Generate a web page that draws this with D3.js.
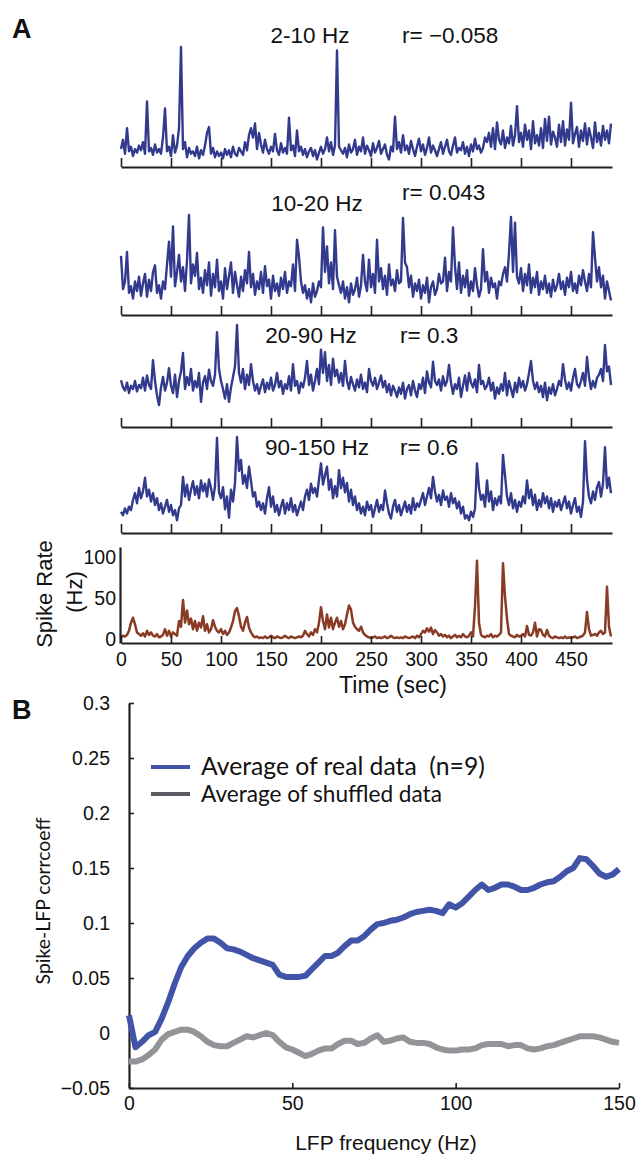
<!DOCTYPE html>
<html><head><meta charset="utf-8">
<script src="https://cdn.jsdelivr.net/npm/d3@7"></script>
<style>body{margin:0;background:#fff}svg{display:block}</style>
</head><body>
<svg id="chart" width="644" height="1157"></svg>
<script>
// ---------------- DATA ----------------
const sampleStep = 2; // seconds between samples
const bandLabels = ["2-10 Hz", "10-20 Hz", "20-90 Hz", "90-150 Hz"];
const rLabels = ["r= \u22120.058", "r= 0.043", "r= 0.3", "r= 0.6"];
const timeTicks = [0, 50, 100, 150, 200, 250, 300, 350, 400, 450];
const rateTicks = [0, 50, 100];

const lfp_2_10 = [12,20,8,30,10,14,6,12,9,15, 11,18,8,53,10,13,7,16,9,12, 8,22,47,10,14,6,24,9,15,30,
 100,12,18,5,13,8,10,6,14,4, 11,7,15,26,31,8,13,5,10,6, 9,4,12,7,11,5,14,8,6,13,
 10,7,18,11,24,30,22,34,12,26, 16,9,20,12,8,14,10,25,11,7, 17,9,13,8,39,11,15,6,28,10,
 14,7,12,5,10,13,6,11,3,9, 14,8,12,22,10,18,7,15,97,14, 11,8,13,5,16,9,12,20,7,14,
 10,22,8,15,11,6,17,9,13,19, 8,12,16,7,3,14,10,40,12,18, 9,24,11,15,8,19,12,6,14,21,
 10,16,7,13,22,9,15,11,6,12, 18,8,14,20,10,7,15,22,9,13, 11,18,8,14,6,16,10,21,12,15,
 9,13,22,18,26,14,30,12,35,20, 16,28,13,22,17,32,15,24,49,18, 26,14,33,20,28,12,36,17,24,15,
 30,13,38,19,40,16,27,22,14,33, 18,36,15,29,20,52,17,25,31,14, 28,19,34,16,30,22,13,35,18,26,
 15,32,20,28,17,34];
const lfp_10_20 = [57,22,30,61,18,25,12,30,20,35, 15,28,38,14,32,20,40,47,18,26, 12,30,22,48,72,35,88,25,40,58,
 30,45,20,52,100,28,48,36,60,22, 34,18,42,26,50,15,38,24,53,20, 30,12,44,22,36,50,18,40,26,14,
 35,20,42,28,61,24,38,16,30,22, 40,18,46,25,32,12,36,20,28,15, 34,22,40,18,30,25,48,20,74,56,
 30,18,26,12,22,8,28,14,20,30, 24,87,40,67,28,50,22,84,35,26, 18,30,12,24,8,28,16,22,34,14,
 26,58,30,20,53,24,38,18,74,30, 44,22,36,16,48,26,32,20,42,28, 30,97,50,45,24,36,14,28,20,32,
 12,26,18,34,8,24,30,16,22,38, 28,30,55,20,40,30,87,46,22,50, 18,36,24,42,15,30,20,44,26,14,
 22,64,30,40,18,34,24,28,12,30, 26,38,45,30,60,98,40,92,35,28, 44,20,38,26,48,18,34,24,40,16,
 30,22,36,18,28,14,32,20,26,38, 22,30,16,34,24,40,20,28,18,36, 26,42,30,20,38,24,82,55,30,45,
 24,36,12,30,20,10];
const lfp_20_90 = [31,22,18,28,15,24,20,30,17,25, 21,34,18,37,25,20,56,30,12,0, 22,35,18,28,46,24,15,38,10,30,
 42,65,20,35,25,45,18,30,22,40, 4,28,36,20,44,30,24,38,91,45, 30,20,8,26,4,22,35,48,100,40,
 28,45,20,38,25,51,30,18,26,14, 24,32,16,28,20,34,18,25,40,22, 30,14,26,20,36,18,51,24,30,15,
 28,22,34,55,25,38,18,30,45,26, 69,40,66,30,50,25,58,36,44,28, 40,24,55,30,20,35,26,18,32,22,
 38,20,28,16,45,30,24,34,20,28, 37,22,30,16,26,12,24,18,10,22, 14,28,8,20,25,12,30,18,10,26,
 20,34,15,42,28,22,54,30,25,32, 18,36,24,30,50,28,14,26,20,34, 10,24,37,18,40,28,22,32,16,50,
 26,30,20,24,34,18,28,8,22,14, 26,18,40,12,30,20,10,28,16,34, 22,30,18,26,40,55,30,20,28,16,
 24,10,28,6,22,14,26,12,20,30, 24,51,32,20,28,18,34,45,26,22, 30,40,24,60,35,20,30,22,34,38,
 45,30,75,42,48,25];
const lfp_90_150 = [12,8,16,10,18,14,26,34,22,40, 28,36,52,30,38,24,34,20,28,14, 22,10,18,26,12,20,8,14,2,16,
 20,53,30,44,26,38,48,32,42,28, 49,36,45,30,50,40,26,42,99,35, 28,41,15,30,5,38,24,46,100,60,
 73,45,55,40,65,48,30,35,18,24, 14,22,10,28,41,18,30,12,20,8, 18,26,10,22,14,28,12,20,8,16,
 24,14,30,38,26,45,34,40,30,50, 69,44,55,65,38,50,28,42,30,61, 40,52,35,46,24,38,20,30,14,22,
 10,18,8,24,14,20,6,16,26,12, 20,14,37,22,10,4,18,26,12,20, 8,16,24,12,20,10,28,14,22,18,
 26,34,20,30,40,28,53,36,24,32, 20,37,26,30,18,34,22,28,16,24, 10,18,4,8,2,12,6,16,69,40,
 26,32,18,49,24,36,14,28,20,30, 22,79,55,30,20,34,16,26,12,24, 18,30,22,49,28,38,20,32,14,26,
 18,34,22,30,16,28,12,24,18,26, 14,22,30,16,24,10,20,28,12,18, 6,24,95,50,30,22,36,26,41,47,
 30,45,88,40,52,34];
const spikeRate = [2,4,3,5,10,20,26,18,8,6, 4,7,3,10,5,8,4,3,6,2, 3,5,12,4,10,3,8,6,4,22,
 15,48,20,35,18,25,12,22,10,20, 14,28,10,18,8,12,23,15,10,8, 12,6,10,5,8,14,22,34,38,28,
 15,10,20,27,14,8,4,2,3,1, 2,1,3,1,2,4,2,1,3,2, 1,2,4,2,1,3,2,1,2,3,
 2,4,10,6,3,8,5,12,8,20, 39,22,12,30,14,26,12,20,26,15, 22,12,18,30,41,36,20,15,12,10,
 15,8,5,3,2,1,2,3,1,2, 1,2,3,1,2,4,2,1,2,1, 2,1,3,2,1,2,3,1,4,2,
 6,10,8,13,9,14,6,11,8,4, 6,3,5,2,4,1,3,5,2,4, 2,6,3,2,4,8,3,40,96,20,
 5,3,2,4,3,6,2,4,3,5, 8,93,52,25,6,4,3,2,5,3, 4,6,3,16,5,4,8,20,3,12,
 11,5,3,11,4,2,1,3,2,1, 2,1,3,1,2,1,2,3,1,2, 3,4,8,33,12,4,5,6,4,8,
 10,6,8,64,15,3];

const freqHz = d3.range(0, 151, 2);
const realCorr = [0.016,-0.013,-0.008,-0.002,0.001,0.013,0.028,0.045,0.060,0.070,
 0.077,0.082,0.086,0.086,0.082,0.077,0.076,0.074,0.071,0.068,
 0.066,0.064,0.062,0.053,0.051,0.051,0.051,0.052,0.058,0.064,
 0.070,0.070,0.073,0.079,0.084,0.084,0.088,0.094,0.099,0.100,
 0.102,0.103,0.105,0.108,0.110,0.111,0.112,0.111,0.109,0.117,
 0.114,0.118,0.124,0.130,0.135,0.130,0.132,0.135,0.135,0.133,
 0.130,0.130,0.132,0.135,0.137,0.138,0.142,0.147,0.150,0.159,
 0.158,0.152,0.145,0.142,0.144,0.149];
const shuffledCorr = [-0.026,-0.026,-0.024,-0.020,-0.015,-0.006,-0.001,0.001,0.003,0.003,
 0.001,-0.003,-0.008,-0.011,-0.012,-0.012,-0.009,-0.006,-0.003,-0.004,
 -0.002,0.000,-0.002,-0.008,-0.013,-0.015,-0.018,-0.021,-0.019,-0.016,
 -0.014,-0.014,-0.010,-0.007,-0.007,-0.010,-0.009,-0.005,-0.002,-0.008,
 -0.007,-0.005,-0.004,-0.008,-0.009,-0.009,-0.010,-0.013,-0.015,-0.016,
 -0.016,-0.015,-0.015,-0.014,-0.011,-0.010,-0.010,-0.010,-0.012,-0.011,
 -0.011,-0.014,-0.015,-0.014,-0.012,-0.011,-0.009,-0.007,-0.005,-0.003,
 -0.003,-0.003,-0.004,-0.006,-0.008,-0.009];
const freqTicks = [0, 50, 100, 150];
const corrTicks = [-0.05, 0, 0.05, 0.1, 0.15, 0.2, 0.25, 0.3];
const legendLabels = ["Average of real data\u00a0\u00a0(n=9)", "Average of shuffled data"];

// ---------------- DRAW ----------------
const svg = d3.select("#chart");
const ARIAL = "'Liberation Sans', Arial, sans-serif";
const MYRIAD = "Lato, 'Open Sans', sans-serif";
const AXIS_COL = "#231f20";
const LFP_COL = "#323a8e";
const SPIKE_COL = "#8a3b24";

function fitWidth(sel, w) {
  const cur = sel.node().getComputedTextLength();
  const fs = parseFloat(sel.attr("font-size"));
  sel.attr("font-size", (fs * w / cur).toFixed(2));
}
function styleAxis(g, width) {
  g.select(".domain").attr("stroke", AXIS_COL).attr("stroke-width", width);
  g.selectAll(".tick line").attr("stroke", AXIS_COL).attr("stroke-width", 1.6);
}

svg.append("text").attr("x", 12).attr("y", 38).text("A")
  .attr("font-family", ARIAL).attr("font-weight", "bold").attr("font-size", 27).attr("fill", "#111");
svg.append("text").attr("x", 12).attr("y", 719).text("B")
  .attr("font-family", ARIAL).attr("font-weight", "bold").attr("font-size", 27).attr("fill", "#111");

const xA = d3.scaleLinear().domain([0, 491]).range([121, 612]);
const lfpSeries = [lfp_2_10, lfp_10_20, lfp_20_90, lfp_90_150];
const panelLayout = [
  {axisY: 167, yRange: [163, 47], titleX: 310, titleY: 43, rX: 402, rY: 43},
  {axisY: 315, yRange: [310, 215], titleX: 317, titleY: 211, rX: 402, rY: 200},
  {axisY: 427, yRange: [405, 325], titleX: 311, titleY: 343, rX: 400, rY: 343},
  {axisY: 533, yRange: [522, 437], titleX: 317, titleY: 455, rX: 400, rY: 455}
];

lfpSeries.forEach((series, k) => {
  const L = panelLayout[k];
  const y = d3.scaleLinear().domain([0, 100]).range(L.yRange);
  const line = d3.line().x((d, i) => xA(i * sampleStep)).y(d => y(d));
  svg.append("path").datum(series).attr("d", line)
    .attr("fill", "none").attr("stroke", LFP_COL).attr("stroke-width", 2.4)
    .attr("stroke-linejoin", "round");
  const ax = svg.append("g").attr("transform", `translate(0,${L.axisY})`)
    .call(d3.axisBottom(xA).tickValues(timeTicks).tickSize(-9).tickSizeOuter(0).tickFormat(""));
  styleAxis(ax, 2.2);
  svg.append("text").attr("x", L.titleX).attr("y", L.titleY).attr("text-anchor", "middle")
    .attr("font-family", ARIAL).attr("font-size", 22.5).attr("fill", "#111").text(bandLabels[k]);
  svg.append("text").attr("x", L.rX).attr("y", L.rY)
    .attr("font-family", ARIAL).attr("font-size", 22.5).attr("fill", "#111").text(rLabels[k]);
});

// spike rate panel
const yS = d3.scaleLinear().domain([-5, 113]).range([643, 547]);
const spikeLine = d3.line().x((d, i) => xA(i * sampleStep)).y(d => yS(d));
svg.append("path").datum(spikeRate).attr("d", spikeLine)
  .attr("fill", "none").attr("stroke", SPIKE_COL).attr("stroke-width", 2.5)
  .attr("stroke-linejoin", "round");
const sx = svg.append("g").attr("transform", "translate(0,643)")
  .call(d3.axisBottom(xA).tickValues(timeTicks).tickSize(-7).tickSizeOuter(0).tickPadding(9));
styleAxis(sx, 2.2);
sx.selectAll("text").attr("font-family", ARIAL).attr("font-size", 19.5).attr("fill", "#111");
const sy = svg.append("g").attr("transform", "translate(120,0)")
  .call(d3.axisLeft(yS).tickValues(rateTicks).tickSize(0).tickSizeOuter(0).tickPadding(4));
styleAxis(sy, 2.2);
sy.selectAll("text").attr("font-family", ARIAL).attr("font-size", 19.5).attr("fill", "#111");
svg.append("text").attr("x", 393).attr("y", 693).attr("text-anchor", "middle")
  .attr("font-family", ARIAL).attr("font-size", 23).attr("fill", "#111").text("Time (sec)");
svg.append("text").attr("transform", "translate(52,594) rotate(-90)").attr("text-anchor", "middle")
  .attr("font-family", ARIAL).attr("font-size", 22).attr("fill", "#111").text("Spike Rate");
svg.append("text").attr("transform", "translate(82,592) rotate(-90)").attr("text-anchor", "middle")
  .attr("font-family", ARIAL).attr("font-size", 22).attr("fill", "#111").text("(Hz)");

// panel B
const xB = d3.scaleLinear().domain([0, 150]).range([129, 619]);
const yB = d3.scaleLinear().domain([-0.05, 0.3]).range([1088, 703]);
const fmt = d => String(+d.toFixed(2)).replace("-", "\u2212");
const bx = svg.append("g").attr("transform", "translate(0,1088)")
  .call(d3.axisBottom(xB).tickValues(freqTicks).tickSize(-5).tickSizeOuter(0).tickPadding(8).tickFormat(d => d));
styleAxis(bx, 2.2);
bx.selectAll("text").attr("font-family", ARIAL).attr("font-size", 19.5).attr("fill", "#111");
const by = svg.append("g").attr("transform", "translate(129,0)")
  .call(d3.axisLeft(yB).tickValues(corrTicks).tickSize(-5).tickSizeOuter(0).tickPadding(19).tickFormat(fmt));
styleAxis(by, 2.2);
by.selectAll("text").attr("font-family", ARIAL).attr("font-size", 19.5).attr("fill", "#111");

const lineB = vals => d3.line().x((d, i) => xB(freqHz[i])).y(d => yB(d))(vals);
svg.append("path").attr("d", lineB(shuffledCorr)).attr("fill", "none")
  .attr("stroke", "#929497").attr("stroke-width", 6).attr("stroke-linejoin", "round");
svg.append("path").attr("d", lineB(realCorr)).attr("fill", "none")
  .attr("stroke", "#4254a7").attr("stroke-width", 6).attr("stroke-linejoin", "round");

const legendColors = ["#4254a7", "#595c60"];
const legendY = [767, 794];
const legendWidths = [284, 241];
legendLabels.forEach((lab, i) => {
  svg.append("line").attr("x1", 151).attr("x2", 190).attr("y1", legendY[i]).attr("y2", legendY[i])
    .attr("stroke", legendColors[i]).attr("stroke-width", 4);
  const t = svg.append("text").attr("x", 201).attr("y", legendY[i] + 8)
    .attr("font-family", MYRIAD).attr("font-size", 22).attr("fill", "#111").text(lab);
  fitWidth(t, legendWidths[i]);
});

const yl = svg.append("text").attr("transform", "translate(50,901) rotate(-90)").attr("text-anchor", "middle")
  .attr("font-family", MYRIAD).attr("font-size", 18).attr("fill", "#111").text("Spike-LFP corrcoeff");
fitWidth(yl, 167);
svg.append("text").attr("x", 386).attr("y", 1150).attr("text-anchor", "middle")
  .attr("font-family", ARIAL).attr("font-size", 21).attr("fill", "#111").text("LFP frequency (Hz)");
</script>
</body></html>
